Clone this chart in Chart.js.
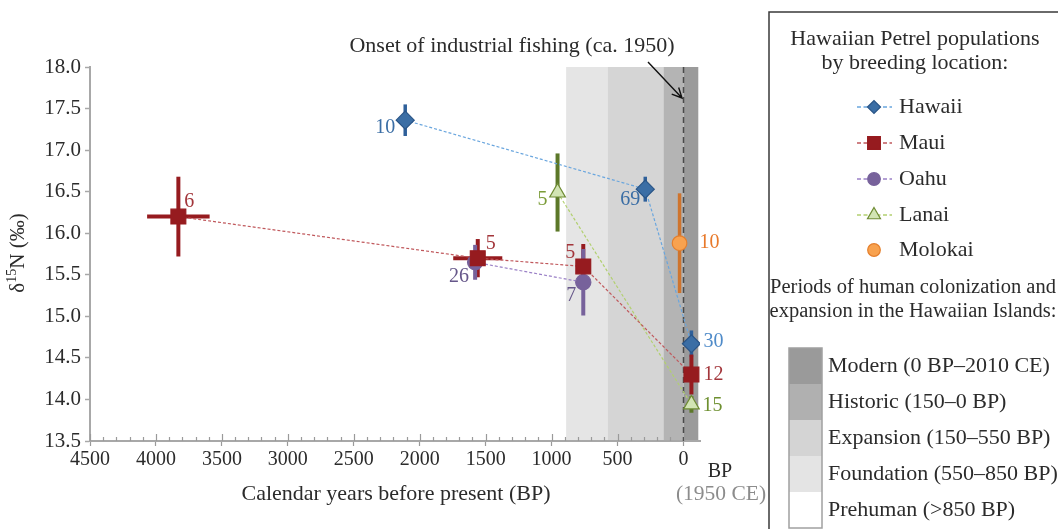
<!DOCTYPE html>
<html>
<head>
<meta charset="utf-8">
<script src="https://cdn.jsdelivr.net/npm/chart.js@4.4.1/dist/chart.umd.min.js"></script>
<style>
  html, body { margin: 0; padding: 0; background: #ffffff; }
  canvas { display: block; }
</style>
</head>
<body>
<canvas id="c" width="1058" height="529"></canvas>
<script>
// ---- Values: years before present (BP), mean d15N (per mil), SD, sample size ----
const hawaiiYears = [2110, 290, -60];
const hawaiiD15N  = [17.36, 16.53, 14.67];
const hawaiiSD    = [0.19, 0.15, 0.16];
const hawaiiN     = [10, 69, 30];

const mauiYears   = [3830, 1560, 760, -60];
const mauiD15N    = [16.20, 15.70, 15.60, 14.30];
const mauiSD      = [0.48, 0.23, 0.27, 0.24];
const mauiYearErr = [237, 186, 0, 0];
const mauiN       = [6, 5, 5, 12];

const oahuYears   = [1580, 760];
const oahuD15N    = [15.65, 15.41];
const oahuSD      = [0.21, 0.40];
const oahuN       = [26, 7];

const lanaiYears  = [955, -60];
const lanaiD15N   = [16.49, 13.94];
const lanaiSD     = [0.47, 0.10];
const lanaiN      = [5, 15];

const molokaiYears = [30];
const molokaiD15N  = [15.88];
const molokaiSD    = [0.60];
const molokaiN     = [10];

// Human colonization periods (BP), drawn as shaded bands
const periodNames = ['Modern (0 BP\u20132010 CE)', 'Historic (150\u20130 BP)', 'Expansion (150\u2013550 BP)',
                     'Foundation (550\u2013850 BP)', 'Prehuman (>850 BP)'];
const periodFrom  = [0, 152, 576, 890];
const periodTo    = [-112, 0, 152, 576];

const xTickValues = [4500, 4000, 3500, 3000, 2500, 2000, 1500, 1000, 500, 0];
const yTickValues = [13.5, 14.0, 14.5, 15.0, 15.5, 16.0, 16.5, 17.0, 17.5, 18.0];

const FONT = '"Liberation Serif", "DejaVu Serif", serif';
const TEXT = '#2b2b2b';

// ---- Series styling ----
const series = [
  { name: 'Hawaii',  x: hawaiiYears,  y: hawaiiD15N,  sd: hawaiiSD,  n: hawaiiN,  style: 'rectRot', r: 9,
    fill: '#3b6ea5', stroke: '#2a5587', line: '#6aa6de', bar: '#2f609a', barW: 3.5,
    labelColor: ['#3b6ea5', '#3b6ea5', '#4f8bc9'],
    place: [[-10, 8, 'right'], [-5, 11, 'right'], [12, -2, 'left']] },
  { name: 'Maui',    x: mauiYears,    y: mauiD15N,    sd: mauiSD,    n: mauiN,    style: 'rect', r: 10.5,
    xerr: mauiYearErr,
    fill: '#961b1f', stroke: '#961b1f', line: '#c0585c', bar: '#961b1f', barW: 4,
    labelColor: ['#a3363b', '#a3363b', '#a3363b', '#a3363b'],
    place: [[6, -15, 'left'], [8, -14, 'left'], [-8, -14, 'right'], [12, 0, 'left']] },
  { name: 'Oahu',    x: oahuYears,    y: oahuD15N,    sd: oahuSD,    n: oahuN,    style: 'circle', r: 7.6,
    fill: '#77629b', stroke: '#77629b', line: '#9a80c6', bar: '#77629b', barW: 4,
    labelColor: ['#66578a', '#66578a'],
    place: [[-6, 14, 'right'], [-7, 13, 'right']] },
  { name: 'Lanai',   x: lanaiYears,   y: lanaiD15N,   sd: lanaiSD,   n: lanaiN,   style: 'triangle', r: 9,
    fill: '#d2e4b4', stroke: '#6f8c34', line: '#b2d070', bar: '#5c7829', barW: 4,
    labelColor: ['#7b9c38', '#6e9030'],
    place: [[-10, 7, 'right'], [11, 1, 'left']] },
  { name: 'Molokai', x: molokaiYears, y: molokaiD15N, sd: molokaiSD, n: molokaiN, style: 'circle', r: 7.3,
    fill: '#f8a24f', stroke: '#e57f2c', line: null, bar: '#cf742d', barW: 3.5,
    labelColor: ['#e8792a'],
    place: [[20, 0, 'left']] }
];

const bandColors = ['#9b9b9b', '#b4b4b4', '#d5d5d5', '#e5e5e5'];

// Shaded period bands, under the axes
const bandsPlugin = {
  id: 'bands',
  beforeDraw(chart) {
    const { ctx, chartArea: a, scales: { x } } = chart;
    ctx.save();
    for (let i = periodFrom.length - 1; i >= 0; i--) {
      const x0 = x.getPixelForValue(periodFrom[i]);
      const x1 = x.getPixelForValue(periodTo[i]);
      ctx.fillStyle = bandColors[i];
      ctx.fillRect(x0, a.top, x1 - x0, a.bottom - a.top);
    }
    ctx.restore();
  }
};

// Vertical marker at 1950 CE, error bars
const errorBarsPlugin = {
  id: 'errorBars',
  beforeDatasetsDraw(chart) {
    const { ctx, chartArea: a, scales: { x, y } } = chart;
    ctx.save();
    // dashed line at 0 BP
    const x0 = x.getPixelForValue(0);
    ctx.strokeStyle = '#4a4a4a';
    ctx.lineWidth = 1.5;
    ctx.setLineDash([6, 4]);
    ctx.beginPath();
    ctx.moveTo(x0, a.top);
    ctx.lineTo(x0, a.bottom);
    ctx.stroke();
    ctx.setLineDash([]);

    series.forEach(s => {
      ctx.strokeStyle = s.bar;
      ctx.lineWidth = s.barW;
      ctx.lineCap = 'butt';
      s.x.forEach((xv, i) => {
        const px = x.getPixelForValue(xv);
        const py = y.getPixelForValue(s.y[i]);
        ctx.beginPath();
        ctx.moveTo(px, y.getPixelForValue(s.y[i] - s.sd[i]));
        ctx.lineTo(px, y.getPixelForValue(s.y[i] + s.sd[i]));
        ctx.stroke();
        if (s.xerr && s.xerr[i] > 0) {
          ctx.beginPath();
          ctx.moveTo(x.getPixelForValue(xv - s.xerr[i]), py);
          ctx.lineTo(x.getPixelForValue(xv + s.xerr[i]), py);
          ctx.stroke();
        }
      });
    });
    ctx.restore();
  }
};

// Sample-size labels next to each point
const countLabelsPlugin = {
  id: 'countLabels',
  afterDatasetsDraw(chart) {
    const { ctx, scales: { x, y } } = chart;
    ctx.save();
    ctx.font = '20px ' + FONT;
    ctx.textBaseline = 'middle';
    series.forEach(s => {
      s.x.forEach((xv, i) => {
        const [dx, dy, align] = s.place[i];
        ctx.fillStyle = s.labelColor[i];
        ctx.textAlign = align;
        ctx.fillText(String(s.n[i]), x.getPixelForValue(xv) + dx, y.getPixelForValue(s.y[i]) + dy);
      });
    });
    ctx.restore();
  }
};

function marker(ctx, style, cx, cy, r, fill, stroke, bw) {
  ctx.fillStyle = fill;
  ctx.strokeStyle = stroke;
  ctx.lineWidth = bw;
  Chart.helpers.drawPoint(ctx, { pointStyle: style, radius: r, rotation: 0, borderWidth: bw }, cx, cy);
}

// Axis extras, titles, annotation and the legend panel
const decorPlugin = {
  id: 'decor',
  afterDraw(chart) {
    const { ctx, chartArea: a, scales: { x } } = chart;
    ctx.save();

    // minor and upper half of major ticks on the x axis
    ctx.strokeStyle = '#9a9a9a';
    ctx.lineWidth = 1.2;
    for (let v = 0; v <= 4500; v += 100) {
      const px = Math.round(x.getPixelForValue(v)) + 0.5;
      const up = v % 500 === 0 ? 7 : 4;
      ctx.beginPath();
      ctx.moveTo(px, a.bottom - up);
      ctx.lineTo(px, a.bottom);
      ctx.stroke();
    }

    // x axis title and BP note
    ctx.fillStyle = TEXT;
    ctx.font = '22px ' + FONT;
    ctx.textAlign = 'center';
    ctx.textBaseline = 'middle';
    ctx.fillText('Calendar years before present (BP)', 396, 494);
    ctx.font = '20px ' + FONT;
    ctx.fillText('BP', 720, 472);
    ctx.fillStyle = '#8c8c8c';
    ctx.font = '21.5px ' + FONT;
    ctx.fillText('(1950 CE)', 721, 494);

    // y axis title: delta 15 N (per mil)
    ctx.save();
    ctx.translate(18, 253);
    ctx.rotate(-Math.PI / 2);
    ctx.fillStyle = TEXT;
    ctx.textBaseline = 'middle';
    ctx.textAlign = 'left';
    const big = '21px ' + FONT, small = '14px ' + FONT;
    ctx.font = big;   const w1 = ctx.measureText('\u03b4').width;
    ctx.font = small; const w2 = ctx.measureText('15').width;
    ctx.font = big;   const w3 = ctx.measureText('N (\u2030)').width;
    let tx = -(w1 + w2 + w3) / 2;
    ctx.font = big;   ctx.fillText('\u03b4', tx, 0); tx += w1;
    ctx.font = small; ctx.fillText('15', tx, -6); tx += w2;
    ctx.font = big;   ctx.fillText('N (\u2030)', tx, 0);
    ctx.restore();

    // annotation with arrow
    ctx.fillStyle = TEXT;
    ctx.font = '22px ' + FONT;
    ctx.textAlign = 'center';
    ctx.fillText('Onset of industrial fishing (ca. 1950)', 512, 46);
    const ax0 = 648, ay0 = 62, ax1 = 682, ay1 = 98;
    ctx.strokeStyle = '#111';
    ctx.lineWidth = 1.4;
    ctx.beginPath();
    ctx.moveTo(ax0, ay0);
    ctx.lineTo(ax1, ay1);
    const ang = Math.atan2(ay1 - ay0, ax1 - ax0);
    ctx.moveTo(ax1 - 11 * Math.cos(ang - 0.45), ay1 - 11 * Math.sin(ang - 0.45));
    ctx.lineTo(ax1, ay1);
    ctx.lineTo(ax1 - 11 * Math.cos(ang + 0.45), ay1 - 11 * Math.sin(ang + 0.45));
    ctx.stroke();

    // legend panel
    ctx.strokeStyle = '#3a3a3a';
    ctx.lineWidth = 1.5;
    ctx.strokeRect(769, 12, 320, 540);

    ctx.fillStyle = TEXT;
    ctx.font = '22px ' + FONT;
    ctx.textAlign = 'center';
    ctx.fillText('Hawaiian Petrel populations', 915, 39);
    ctx.fillText('by breeding location:', 915, 63);

    const legendY = [107, 143, 179, 215, 250];
    const legendSize = [6.5, 9, 6.3, 7.5, 6.3];
    series.forEach((s, i) => {
      const ly = legendY[i];
      if (s.line) {
        ctx.strokeStyle = s.line;
        ctx.lineWidth = 1.3;
        ctx.setLineDash([4, 2.5]);
        ctx.beginPath();
        ctx.moveTo(857, ly);
        ctx.lineTo(892, ly);
        ctx.stroke();
        ctx.setLineDash([]);
      }
      marker(ctx, s.style, 874, ly, legendSize[i], s.fill, s.stroke, 1.2);
      ctx.fillStyle = TEXT;
      ctx.font = '22px ' + FONT;
      ctx.textAlign = 'left';
      ctx.textBaseline = 'middle';
      ctx.fillText(s.name, 899, ly);
    });

    ctx.textAlign = 'center';
    ctx.font = '20.5px ' + FONT;
    ctx.fillText('Periods of human colonization and', 913, 288);
    ctx.fillText('expansion in the Hawaiian Islands:', 913, 312);

    // period swatches
    const swTop = 348, swH = 36;
    const swColors = ['#9a9a9a', '#b0b0b0', '#d4d4d4', '#e4e4e4', '#ffffff'];
    swColors.forEach((c, i) => {
      ctx.fillStyle = c;
      ctx.fillRect(789, swTop + i * swH, 33, swH);
    });
    ctx.strokeStyle = '#a0a0a0';
    ctx.lineWidth = 1.5;
    ctx.strokeRect(789, swTop, 33, swH * 5);
    ctx.fillStyle = TEXT;
    ctx.textAlign = 'left';
    ctx.font = '22px ' + FONT;
    periodNames.forEach((t, i) => {
      ctx.fillText(t, 828, swTop + i * swH + swH / 2);
    });

    ctx.restore();
  }
};

const datasets = series.map(s => ({
  label: s.name,
  data: s.x.map((xv, i) => ({ x: xv, y: s.y[i] })),
  showLine: !!s.line,
  borderColor: s.line || s.stroke,
  borderWidth: 1.2,
  borderDash: [3, 2],
  pointStyle: s.style,
  pointRadius: s.r,
  pointHoverRadius: s.r,
  pointBackgroundColor: s.fill,
  pointBorderColor: s.stroke,
  pointBorderWidth: 1.2
}));

new Chart(document.getElementById('c'), {
  type: 'scatter',
  data: { datasets },
  options: {
    responsive: false,
    animation: false,
    devicePixelRatio: 1,
    layout: { padding: { top: 67, right: 358, bottom: 0, left: 0 } },
    plugins: { legend: { display: false }, tooltip: { enabled: false } },
    scales: {
      x: {
        type: 'linear', reverse: true, min: -125, max: 4500,
        afterFit: s => { s.height = 88; },
        afterBuildTicks: s => { s.ticks = xTickValues.map(v => ({ value: v })); },
        grid: { drawOnChartArea: false, drawTicks: true, tickLength: 5, tickColor: '#9a9a9a', tickWidth: 1.2 },
        border: { color: '#a8a8a8', width: 2 },
        ticks: { font: { family: FONT, size: 20 }, color: TEXT, padding: 2, maxRotation: 0, autoSkip: false,
                 callback: v => String(v) }
      },
      y: {
        type: 'linear', min: 13.5, max: 18.0,
        afterFit: s => { s.width = 90; },
        afterBuildTicks: s => { s.ticks = yTickValues.map(v => ({ value: v })); },
        grid: { drawOnChartArea: false, drawTicks: true, tickLength: 5, tickColor: '#a8a8a8', tickWidth: 1.5 },
        border: { color: '#a8a8a8', width: 2 },
        ticks: { font: { family: FONT, size: 21 }, color: TEXT, padding: 4, callback: v => v.toFixed(1) }
      }
    }
  },
  plugins: [bandsPlugin, errorBarsPlugin, countLabelsPlugin, decorPlugin]
});
</script>
</body>
</html>
